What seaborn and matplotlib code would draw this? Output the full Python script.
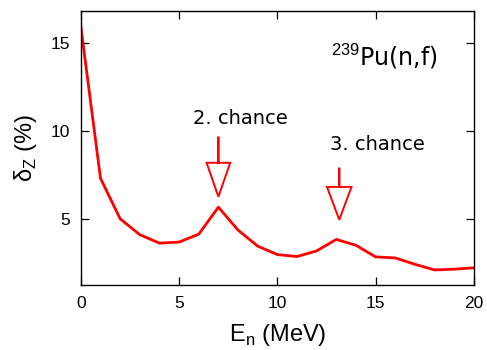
import numpy as np
import pandas as pd
import seaborn as sns
import matplotlib.pyplot as plt

# du lieu doc tu hinh
energy = [0, 1, 2, 3, 4, 5, 6, 7, 8, 9, 10, 11, 12, 13, 14, 15, 16, 17, 18, 19, 20]
delta_z = [15.9, 7.3, 5.0, 4.1, 3.62, 3.68, 4.13, 5.66, 4.36, 3.45, 2.97, 2.86, 3.18, 3.83, 3.5,
           2.84, 2.78, 2.42, 2.1, 2.14, 2.22]
x_ticks = [0, 5, 10, 15, 20]
y_ticks = [5, 10, 15]

df = pd.DataFrame({'En': energy, 'dZ': delta_z})

sns.set_style('ticks')
plt.rcParams['font.family'] = ['Liberation Sans', 'DejaVu Sans']
plt.rcParams['mathtext.fontset'] = 'custom'
plt.rcParams['mathtext.rm'] = 'Liberation Sans'
plt.rcParams['text.color'] = 'black'
plt.rcParams['axes.labelcolor'] = 'black'
plt.rcParams['xtick.color'] = 'black'
plt.rcParams['ytick.color'] = 'black'

fig = plt.figure(figsize=(4.87, 3.5), dpi=100)
ax = fig.add_axes([0.166, 0.186, 0.807, 0.783])

sns.lineplot(data=df, x='En', y='dZ', color='red', lw=2.0, ax=ax)

ax.set_xlim(0, 20)
ax.set_ylim(1.25, 16.8)
ax.set_xticks(x_ticks)
ax.set_yticks(y_ticks)
ax.tick_params(direction='in', length=6, width=0.9, top=True, right=True,
               labeltop=False, labelright=False, labelsize=12.5, pad=8)
for s in ax.spines.values():
    s.set_linewidth(1.0)
    s.set_color('black')

ax.set_xlabel('E$_\\mathrm{n}$ (MeV)', fontsize=17, labelpad=8)
ax.set_ylabel('δ$_\\mathrm{Z}$ (%)', fontsize=17, labelpad=8)

# mui ten rong (hollow) chi vao cac dinh
ax.arrow(7, 9.66, 0, 6.25 - 9.66, width=0.0, head_width=1.2,
         head_length=1.93, fill=False, ec='red', lw=1.4, length_includes_head=True)
ax.arrow(13.15, 7.9, 0, 4.95 - 7.9, width=0.0, head_width=1.25,
         head_length=1.86, fill=False, ec='red', lw=1.4, length_includes_head=True)

ax.text(8.1, 10.7, '2. chance', fontsize=14, family='DejaVu Sans', ha='center', va='center')
ax.text(15.1, 9.23, '3. chance', fontsize=14, family='DejaVu Sans', ha='center', va='center')
ax.text(15.45, 14.2, '$^{239}$Pu(n,f)', fontsize=17, family='DejaVu Sans', ha='center', va='center')

fig.savefig('out.png', dpi=100)
